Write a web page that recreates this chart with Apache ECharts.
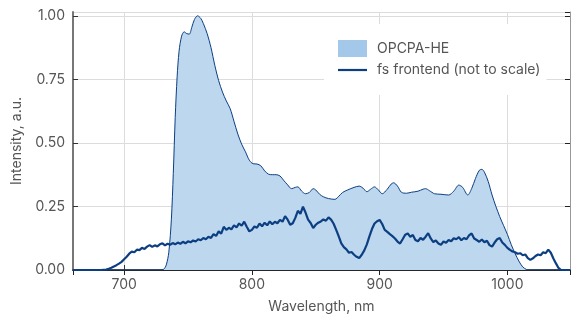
<!DOCTYPE html>
<html>
<head>
<meta charset="utf-8">
<script src="https://cdn.jsdelivr.net/npm/echarts@6/dist/echarts.min.js"></script>
<style>
  html, body { margin: 0; padding: 0; background: #fff; }
  #main { width: 571px; height: 319px; }
</style>
</head>
<body>
<div id="main"></div>
<script>
// OPCPA-HE spectrum (wavelength nm, normalised intensity)
var opcpaNm = [660, 728, 731, 733, 735, 737, 738.5, 740, 741.5, 743, 745, 747, 749, 751, 753, 755, 757.5, 760, 762, 765,
    768, 771, 774, 777, 780, 783, 786, 789, 792, 795, 798, 801, 804, 807, 810, 813, 816, 819, 822, 825,
    828, 831, 834, 836, 839, 842, 845, 848, 850, 853, 856, 860, 865, 868, 871, 875, 880, 884, 887, 890,
    893, 896, 899, 902, 906, 909, 911, 914, 917, 921, 925, 930, 934, 936, 939, 943, 948, 954, 958, 962,
    965, 969, 972, 975, 978, 980, 982, 985, 988, 991, 994, 997, 1000, 1003, 1006, 1009, 1012, 1015, 1017, 1049];
var opcpaVal = [0, 0, 0.003, 0.02, 0.07, 0.2, 0.38, 0.6, 0.76, 0.86, 0.92, 0.937, 0.93, 0.928, 0.955, 0.985, 1.0, 0.99, 0.97, 0.93,
    0.875, 0.805, 0.745, 0.70, 0.665, 0.635, 0.585, 0.535, 0.495, 0.465, 0.432, 0.418, 0.417, 0.41, 0.39, 0.377, 0.375, 0.375, 0.37, 0.352,
    0.335, 0.32, 0.325, 0.327, 0.31, 0.30, 0.305, 0.32, 0.315, 0.298, 0.288, 0.281, 0.278, 0.29, 0.305, 0.315, 0.325, 0.33, 0.322, 0.308,
    0.318, 0.327, 0.315, 0.30, 0.318, 0.338, 0.343, 0.33, 0.306, 0.302, 0.306, 0.31, 0.318, 0.32, 0.312, 0.30, 0.298, 0.295, 0.31, 0.334,
    0.325, 0.295, 0.32, 0.36, 0.392, 0.396, 0.385, 0.348, 0.295, 0.25, 0.21, 0.175, 0.14, 0.10, 0.065, 0.035, 0.012, 0.002, 0, 0];

// fs frontend spectrum (not to scale)
var fsNm = [660, 682, 684, 686, 688, 690, 692, 694, 696, 698,
    700, 702, 704, 706, 708, 710, 712, 714, 716, 718, 720, 722, 724, 726, 728, 730, 732, 734, 736, 738,
    740, 742, 744, 746, 748, 750, 752, 754, 756, 758, 760, 762, 764, 766, 768, 770, 772, 774, 776, 778,
    780, 782, 784, 786, 788, 790, 792, 794, 796, 798, 800, 802, 804, 806, 808, 810, 812, 814, 816, 818,
    820, 822, 824, 826, 828, 830, 832, 834, 836, 838, 840, 842, 844, 846, 848, 850, 852, 854, 856, 858,
    860, 862, 864, 866, 868, 870, 872, 874, 876, 878, 880, 882, 884, 886, 888, 890, 892, 894, 896, 898,
    900, 902, 904, 906, 908, 910, 912, 914, 916, 918, 920, 922, 924, 926, 928, 930, 932, 934, 936, 938,
    940, 942, 944, 946, 948, 950, 952, 954, 956, 958, 960, 962, 964, 966, 968, 970, 972, 974, 976, 978,
    980, 982, 984, 986, 988, 990, 992, 994, 996, 998, 1000, 1002, 1004, 1006, 1008, 1010, 1012, 1014, 1016, 1018,
    1020, 1022, 1024, 1026, 1028, 1030, 1032, 1034, 1036, 1038, 1040, 1042, 1049];
var fsVal = [0, 0, 0.001, 0.002, 0.005, 0.009, 0.014, 0.019, 0.025, 0.032,
    0.042, 0.052, 0.064, 0.072, 0.070, 0.080, 0.078, 0.087, 0.083, 0.092, 0.098, 0.091, 0.097, 0.093, 0.101, 0.105, 0.097, 0.103, 0.099, 0.106,
    0.101, 0.108, 0.103, 0.111, 0.105, 0.113, 0.109, 0.116, 0.112, 0.121, 0.117, 0.126, 0.121, 0.131, 0.126, 0.141, 0.134, 0.152, 0.143, 0.170,
    0.158, 0.166, 0.160, 0.176, 0.168, 0.183, 0.174, 0.190, 0.170, 0.152, 0.158, 0.171, 0.166, 0.183, 0.172, 0.186, 0.176, 0.191, 0.180, 0.190,
    0.184, 0.197, 0.190, 0.212, 0.198, 0.178, 0.184, 0.205, 0.233, 0.221, 0.249, 0.226, 0.198, 0.185, 0.165, 0.178, 0.186, 0.191, 0.199, 0.194,
    0.207, 0.198, 0.182, 0.158, 0.132, 0.105, 0.090, 0.081, 0.068, 0.071, 0.060, 0.052, 0.047, 0.060, 0.077, 0.101, 0.132, 0.161, 0.183, 0.192,
    0.197, 0.181, 0.158, 0.150, 0.141, 0.133, 0.124, 0.112, 0.104, 0.121, 0.139, 0.144, 0.130, 0.138, 0.118, 0.113, 0.126, 0.119, 0.131, 0.145,
    0.124, 0.110, 0.116, 0.104, 0.099, 0.112, 0.107, 0.118, 0.113, 0.125, 0.121, 0.129, 0.117, 0.126, 0.121, 0.136, 0.144, 0.124, 0.118, 0.111,
    0.120, 0.109, 0.115, 0.098, 0.092, 0.108, 0.121, 0.126, 0.108, 0.099, 0.087, 0.079, 0.073, 0.070, 0.064, 0.066, 0.058, 0.061, 0.047, 0.040,
    0.046, 0.055, 0.061, 0.058, 0.070, 0.066, 0.080, 0.068, 0.045, 0.026, 0.008, 0, 0];

var xMin = 660, xMax = 1049;
var yMin = 0, yMax = 1.015;

function pairs(xs, ys) {
    var out = [];
    for (var i = 0; i < xs.length; i++) out.push([xs[i], ys[i]]);
    return out;
}

var font = 'Inter, "Noto Sans", sans-serif';
var textColor = '#555';
var dark = '#0c3f82';

var chart = echarts.init(document.getElementById('main'));
var option = {
    animation: false,
    backgroundColor: '#fff',
    textStyle: { fontFamily: font },
    grid: { left: 73, right: 1, top: 12, bottom: 49, containLabel: false },
    legend: {
        left: 324,
        top: 24,
        orient: 'vertical',
        backgroundColor: '#fff',
        padding: [16, 6, 18, 14],
        itemWidth: 29,
        itemHeight: 17,
        itemGap: 6,
        textStyle: { color: textColor, fontSize: 14, fontFamily: font, padding: [0, 0, 0, 5] },
        data: [
            { name: 'OPCPA-HE', icon: 'rect', itemStyle: { color: '#a4c8ea', borderWidth: 0, borderColor: 'transparent' } },
            { name: 'fs frontend (not to scale)', icon: 'path://M0,0L29,0L29,2.2L0,2.2Z', itemStyle: { color: dark, borderWidth: 0 } }
        ]
    },
    xAxis: [{
        type: 'value',
        min: xMin,
        max: xMax,
        name: 'Wavelength, nm',
        nameLocation: 'middle',
        nameGap: 30,
        nameTextStyle: { color: textColor, fontSize: 14, fontFamily: font },
        axisLine: { show: true, lineStyle: { color: '#333', width: 1 } },
        axisTick: { show: true, inside: true, length: 5, lineStyle: { color: '#333' } },
        axisLabel: {
            color: textColor, fontSize: 14, fontFamily: font, margin: 8, showMinLabel: false, showMaxLabel: false,
            formatter: function (v) { return String(v); }
        },
        splitLine: { show: true, lineStyle: { color: '#dcdcdc', width: 1 } }
    }, {
        type: 'value',
        position: 'top',
        min: xMin,
        max: xMax,
        axisLine: { show: true, lineStyle: { color: '#222', width: 1.5 } },
        axisTick: { show: true, inside: true, length: 5, lineStyle: { color: '#222' } },
        axisLabel: { show: false },
        splitLine: { show: false }
    }],
    yAxis: [{
        type: 'value',
        min: yMin,
        max: yMax,
        interval: 0.25,
        name: 'Intensity, a.u.',
        nameLocation: 'middle',
        nameGap: 48,
        nameTextStyle: { color: textColor, fontSize: 14, fontFamily: font },
        axisLine: { show: true, lineStyle: { color: '#777', width: 2 } },
        axisTick: { show: true, inside: true, length: 5, lineStyle: { color: '#333' } },
        axisLabel: {
            color: textColor, fontSize: 14, fontFamily: font, margin: 8, showMaxLabel: false,
            formatter: function (v) { return v.toFixed(2); }
        },
        splitLine: { show: true, lineStyle: { color: '#dcdcdc', width: 1 } }
    }, {
        type: 'value',
        position: 'right',
        min: yMin,
        max: yMax,
        interval: 0.25,
        axisLine: { show: true, lineStyle: { color: '#999', width: 1 } },
        axisTick: { show: true, inside: true, length: 5, lineStyle: { color: '#222' } },
        axisLabel: { show: false },
        splitLine: { show: false }
    }],
    series: [
        {
            name: 'OPCPA-HE',
            type: 'line',
            data: pairs(opcpaNm, opcpaVal),
            smooth: 0.3,
            symbol: 'none',
            lineStyle: { color: dark, width: 1 },
            itemStyle: { color: dark },
            areaStyle: { color: '#bdd7ee', opacity: 1 },
            z: 2
        },
        {
            name: 'fs frontend (not to scale)',
            type: 'line',
            data: pairs(fsNm, fsVal),
            symbol: 'none',
            lineStyle: { color: dark, width: 2.2 },
            itemStyle: { color: dark },
            z: 3
        }
    ]
};
chart.setOption(option);
</script>
</body>
</html>
